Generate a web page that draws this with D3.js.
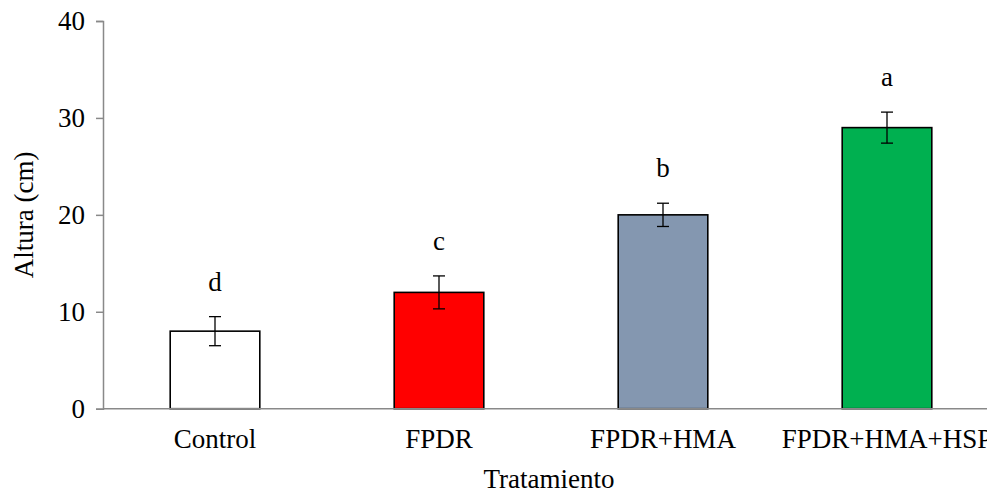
<!DOCTYPE html>
<html>
<head>
<meta charset="utf-8">
<script src="https://cdn.jsdelivr.net/npm/d3@7"></script>
<style>
  body { margin: 0; background: #fff; }
</style>
</head>
<body>
<svg id="chart" width="987" height="491"></svg>
<script>
// data
const treatments = ["Control", "FPDR", "FPDR+HMA", "FPDR+HMA+HSP"];
const heights = [8, 12, 20, 29];
const errors = [1.5, 1.7, 1.2, 1.6];
const letters = ["d", "c", "b", "a"];
const colors = ["#ffffff", "#ff0000", "#8497b0", "#00b050"];
const yTicks = [0, 10, 20, 30, 40];

const serif = "Liberation Serif";
const fs = 27;
const svg = d3.select("#chart");
const mLeft = 103, mTop = 21, mBottom = 408.7;
const step = 224;

const x = d3.scaleBand()
  .domain(treatments)
  .range([mLeft, mLeft + step * treatments.length])
  .paddingInner(0.6)
  .paddingOuter(0.3);

const y = d3.scaleLinear().domain([0, 40]).range([mBottom, mTop]);

const rows = treatments.map((t, i) => ({
  name: t, value: heights[i], err: errors[i], letter: letters[i], color: colors[i]
}));

// y axis
const yAxis = svg.append("g")
  .attr("transform", `translate(${mLeft},0)`)
  .call(d3.axisLeft(y).tickValues(yTicks).tickSize(7).tickPadding(11).tickFormat(d3.format("d")));
yAxis.attr("font-family", serif).attr("font-size", fs);
yAxis.select(".domain").attr("stroke", "#898989").attr("stroke-width", 1.5);
yAxis.selectAll(".tick line").attr("stroke", "#898989").attr("stroke-width", 1.5);
yAxis.selectAll(".tick text").attr("fill", "#000");

// bars
svg.append("g")
  .selectAll("rect")
  .data(rows)
  .join("rect")
  .attr("x", d => x(d.name))
  .attr("y", d => y(d.value))
  .attr("width", x.bandwidth())
  .attr("height", d => y(0) - y(d.value))
  .attr("fill", d => d.color)
  .attr("stroke", "#000")
  .attr("stroke-width", 1.6);

// x axis line
svg.append("line")
  .attr("x1", mLeft).attr("x2", 987)
  .attr("y1", mBottom).attr("y2", mBottom)
  .attr("stroke", "#898989")
  .attr("stroke-width", 1.5);

// error bars
const eb = svg.append("g").attr("stroke", "#000").attr("stroke-width", 1.3);
rows.forEach(d => {
  const cx = x(d.name) + x.bandwidth() / 2;
  eb.append("line").attr("x1", cx).attr("x2", cx)
    .attr("y1", y(d.value + d.err)).attr("y2", y(d.value - d.err));
  [d.value + d.err, d.value - d.err].forEach(v => {
    eb.append("line").attr("x1", cx - 6).attr("x2", cx + 6)
      .attr("y1", y(v)).attr("y2", y(v));
  });
});

const labels = svg.append("g").attr("font-family", serif).attr("font-size", fs).attr("fill", "#000");

// significance letters
labels.append("g")
  .selectAll("text")
  .data(rows)
  .join("text")
  .attr("x", d => x(d.name) + x.bandwidth() / 2)
  .attr("y", d => y(d.value + d.err) - 26)
  .attr("text-anchor", "middle")
  .text(d => d.letter);

// x tick labels
labels.append("g")
  .selectAll("text")
  .data(rows)
  .join("text")
  .attr("x", d => x(d.name) + x.bandwidth() / 2)
  .attr("y", 448)
  .attr("text-anchor", "middle")
  .text(d => d.name);

// axis titles
labels.append("text")
  .attr("x", 549).attr("y", 488)
  .attr("text-anchor", "middle")
  .text("Tratamiento");

labels.append("text")
  .attr("transform", `translate(33,${(mTop + mBottom) / 2}) rotate(-90)`)
  .attr("text-anchor", "middle")
  .text("Altura (cm)");
</script>
</body>
</html>
